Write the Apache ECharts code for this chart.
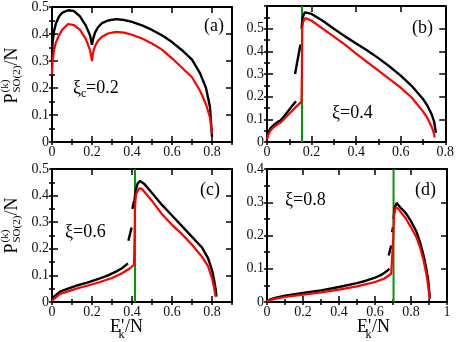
<!DOCTYPE html>
<html>
<head>
<meta charset="utf-8">
<script src="https://cdn.jsdelivr.net/npm/echarts@6/dist/echarts.min.js"></script>
<style>
  html, body { margin: 0; padding: 0; background: #fff; }
  #chart { width: 457px; height: 342px; }
</style>
</head>
<body>
<div id="chart"></div>
<script>
const serif = 'Liberation Serif';

// (a) xi_c = 0.2
const aBlack = [[0,0.30],[0.003,0.37],[0.01,0.41],[0.02,0.44],[0.035,0.465],[0.05,0.478],[0.08,0.488],[0.11,0.485],
  [0.14,0.465],[0.17,0.43],[0.19,0.395],[0.2,0.36],[0.205,0.38],[0.215,0.405],[0.23,0.425],[0.25,0.44],[0.28,0.45],
  [0.32,0.455],[0.36,0.452],[0.4,0.445],[0.45,0.432],[0.5,0.415],[0.55,0.395],[0.6,0.37],[0.65,0.34],[0.7,0.305],
  [0.74,0.255],[0.77,0.2],[0.79,0.13],[0.8,0.02]];
const aRed = [[0,0.25],[0.003,0.30],[0.01,0.34],[0.02,0.37],[0.035,0.395],[0.05,0.415],[0.08,0.437],[0.11,0.433],
  [0.14,0.415],[0.17,0.38],[0.19,0.34],[0.2,0.30],[0.205,0.33],[0.215,0.355],[0.23,0.375],[0.25,0.39],[0.28,0.402],
  [0.32,0.408],[0.36,0.405],[0.4,0.397],[0.45,0.383],[0.5,0.365],[0.55,0.342],[0.6,0.31],[0.65,0.275],[0.7,0.24],
  [0.74,0.19],[0.77,0.14],[0.79,0.09],[0.8,0.03]];

// (b) xi = 0.4
const bBlackLow = [[0,0.02],[0.005,0.04],[0.015,0.06],[0.03,0.075],[0.05,0.09],[0.06,0.095],[0.07,0.105],
  [0.09,0.13],[0.11,0.155],[0.13,0.18]];
const bBlackDash = [[0.126,0.30],[0.15,0.43]];
const bBlackHigh = [[0.155,0.5],[0.16,0.55],[0.17,0.572],[0.178,0.577],[0.2,0.565],[0.25,0.535],[0.3,0.5],
  [0.35,0.466],[0.4,0.435],[0.45,0.404],[0.5,0.37],[0.55,0.333],[0.6,0.293],[0.65,0.247],[0.7,0.19],[0.72,0.16],
  [0.74,0.12],[0.75,0.09],[0.755,0.06],[0.758,0.04]];
const bRed = [[0,0.01],[0.005,0.03],[0.015,0.05],[0.03,0.065],[0.05,0.08],[0.06,0.085],[0.07,0.095],[0.09,0.115],
  [0.11,0.135],[0.13,0.155],[0.155,0.178],[0.157,0.34],[0.158,0.5],[0.162,0.53],[0.172,0.547],[0.2,0.535],
  [0.25,0.5],[0.3,0.465],[0.35,0.43],[0.4,0.39],[0.45,0.352],[0.5,0.315],[0.55,0.277],[0.6,0.24],[0.65,0.195],
  [0.7,0.135],[0.72,0.105],[0.74,0.065],[0.75,0.035],[0.752,0.02]];

// (c) xi = 0.6
const cBlackLow = [[0,0.01],[0.01,0.02],[0.04,0.039],[0.08,0.05],[0.12,0.061],[0.18,0.074],[0.24,0.089],
  [0.28,0.1],[0.32,0.114],[0.35,0.127],[0.38,0.145]];
const cBlackDash1 = [[0.382,0.23],[0.398,0.28]];
const cBlackDash2 = [[0.402,0.35],[0.41,0.38]];
const cBlackHigh = [[0.412,0.38],[0.418,0.42],[0.428,0.445],[0.44,0.455],[0.46,0.445],[0.5,0.41],[0.55,0.365],
  [0.6,0.325],[0.65,0.285],[0.7,0.245],[0.75,0.205],[0.78,0.165],[0.8,0.12],[0.81,0.085],[0.818,0.05],[0.822,0.02]];
const cRed = [[0,0.005],[0.01,0.012],[0.04,0.03],[0.08,0.04],[0.12,0.05],[0.18,0.062],[0.24,0.075],[0.3,0.09],
  [0.35,0.108],[0.39,0.127],[0.41,0.14],[0.413,0.25],[0.415,0.36],[0.42,0.405],[0.435,0.427],[0.45,0.425],
  [0.5,0.38],[0.55,0.33],[0.6,0.29],[0.65,0.255],[0.7,0.215],[0.75,0.17],[0.78,0.135],[0.8,0.09],[0.81,0.055],
  [0.818,0.02]];

// (d) xi = 0.8
const dBlackLow = [[0,0.003],[0.02,0.008],[0.05,0.013],[0.1,0.019],[0.2,0.027],[0.3,0.035],[0.4,0.045],
  [0.5,0.057],[0.55,0.064],[0.6,0.073],[0.64,0.083],[0.67,0.095],[0.68,0.1]];
const dBlackDash1 = [[0.676,0.14],[0.69,0.17]];
const dBlackDash2 = [[0.695,0.21],[0.7,0.225]];
const dBlackHigh = [[0.703,0.25],[0.71,0.285],[0.72,0.298],[0.74,0.285],[0.77,0.268],[0.8,0.243],[0.83,0.212],
  [0.85,0.18],[0.87,0.14],[0.885,0.1],[0.895,0.068],[0.902,0.03],[0.905,0.01]];
const dRed = [[0,0.002],[0.02,0.006],[0.05,0.01],[0.1,0.015],[0.2,0.022],[0.3,0.029],[0.4,0.037],[0.5,0.047],
  [0.6,0.06],[0.65,0.07],[0.69,0.085],[0.7,0.09],[0.702,0.2],[0.705,0.26],[0.715,0.285],[0.73,0.28],[0.77,0.252],
  [0.8,0.225],[0.83,0.195],[0.85,0.165],[0.87,0.125],[0.885,0.085],[0.895,0.05],[0.902,0.02],[0.904,0.01]];

const greenX = [null, 0.157, 0.415, 0.703];
const xMax = [0.9, 0.8, 0.9, 1];
const yMax = [0.5, 0.6, 0.5, 0.4];
const xShowMax = [false, true, false, true];
const yShowMax = [true, false, true, true];

const panels = [
  { black: [aBlack], red: aRed },
  { black: [bBlackLow, bBlackDash, bBlackHigh], red: bRed },
  { black: [cBlackLow, cBlackDash1, cBlackDash2, cBlackHigh], red: cRed },
  { black: [dBlackLow, dBlackDash1, dBlackDash2, dBlackHigh], red: dRed }
];

const grids = [
  { left: 52, top: 6, width: 180, height: 136 },
  { left: 267, top: 6, width: 180, height: 136 },
  { left: 52, top: 169, width: 180, height: 133 },
  { left: 267, top: 169, width: 180, height: 133 }
];

const fmt = v => (Math.round(v * 100) / 100).toString();
const tickStyle = { color: '#000', width: 1.5 };

const xAxes = [], yAxes = [];
grids.forEach((g, i) => {
  ['bottom', 'top'].forEach(pos => {
    xAxes.push({
      type: 'value', gridIndex: i, position: pos, min: 0, max: xMax[i], interval: 0.2,
      axisLine: { onZero: false, lineStyle: { color: '#000', width: 2 } },
      axisTick: { inside: true, length: 6, lineStyle: tickStyle },
      axisLabel: pos === 'bottom'
        ? { margin: 3, color: '#111', fontFamily: serif, fontSize: 14, formatter: fmt, showMaxLabel: xShowMax[i] }
        : { show: false },
      splitLine: { show: false }
    });
    xAxes.push({
      type: 'value', gridIndex: i, position: pos, min: 0, max: xMax[i], interval: 0.1,
      axisLine: { show: false },
      axisTick: { inside: true, length: 3, lineStyle: tickStyle },
      axisLabel: { show: false }, splitLine: { show: false }
    });
  });
  ['left', 'right'].forEach(pos => {
    yAxes.push({
      type: 'value', gridIndex: i, position: pos, min: 0, max: yMax[i], interval: 0.1,
      axisLine: { onZero: false, lineStyle: { color: '#000', width: 2 } },
      axisTick: { inside: true, length: 6, lineStyle: tickStyle },
      axisLabel: pos === 'left'
        ? { margin: 3, color: '#111', fontFamily: serif, fontSize: 14, formatter: fmt, showMaxLabel: yShowMax[i] }
        : { show: false },
      splitLine: { show: false }
    });
    yAxes.push({
      type: 'value', gridIndex: i, position: pos, min: 0, max: yMax[i], interval: 0.05,
      axisLine: { show: false },
      axisTick: { inside: true, length: 3, lineStyle: tickStyle },
      axisLabel: { show: false }, splitLine: { show: false }
    });
  });
});

const series = [];
panels.forEach((p, i) => {
  const idx = { xAxisIndex: 4 * i, yAxisIndex: 4 * i };
  if (greenX[i] !== null) {
    series.push(Object.assign({
      type: 'line', symbol: 'none', silent: true,
      lineStyle: { color: '#009900', width: 2 },
      data: [[greenX[i], 0], [greenX[i], yMax[i]]]
    }, idx));
  }
  p.black.forEach(d => {
    series.push(Object.assign({
      type: 'line', symbol: 'none', silent: true,
      lineStyle: { color: '#000', width: 2.4 }, data: d
    }, idx));
  });
  series.push(Object.assign({
    type: 'line', symbol: 'none', silent: true,
    lineStyle: { color: '#ff0000', width: 2.2 }, data: p.red
  }, idx));
});

// text helpers
function txt(x, y, s, size) {
  return { type: 'text', x: x, y: y, silent: true,
    style: { text: s, fontSize: size, fontFamily: serif, fill: '#000',
      align: 'left', verticalAlign: 'middle', textAlign: 'left', textVerticalAlign: 'middle' } };
}
function yTitle(x, y) {
  return { type: 'group', x: x, y: y, rotation: Math.PI / 2, children: [
    txt(0, 0, 'P', 18),
    txt(11, -7, '(k)', 11),
    txt(11, 5, 'SO(2)', 11),
    txt(38, 0, '/N', 18)
  ] };
}
function xTitle(x, y) {
  return { type: 'group', x: x, y: y, children: [
    txt(0, 0, "E'", 18),
    txt(8.5, 8, 'k', 12),
    txt(15, 0, '/N', 18)
  ] };
}

const graphics = [
  txt(204, 26, '(a)', 18),
  txt(412, 28, '(b)', 18),
  txt(200, 190, '(c)', 18),
  txt(415, 190, '(d)', 18),
  txt(73, 88, 'ξ', 18), txt(81, 94, 'c', 12), txt(86, 88, '=0.2', 18),
  txt(332, 113, 'ξ=0.4', 18),
  txt(65, 232, 'ξ=0.6', 18),
  txt(285, 200, 'ξ=0.8', 18),
  yTitle(12.5, 103.5),
  yTitle(12.5, 253.5),
  xTitle(110, 327),
  xTitle(357, 327)
];

const chart = echarts.init(document.getElementById('chart'));
chart.setOption({
  animation: false,
  backgroundColor: '#fff',
  grid: grids,
  xAxis: xAxes,
  yAxis: yAxes,
  series: series,
  graphic: graphics
});
</script>
</body>
</html>
